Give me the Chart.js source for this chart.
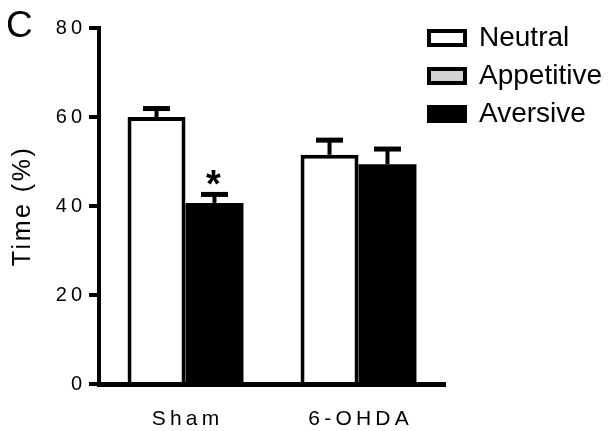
<!DOCTYPE html>
<html><head><meta charset="utf-8">
<script src="https://cdn.jsdelivr.net/npm/chart.js@4.4.1/dist/chart.umd.min.js"></script>
<style>html,body{margin:0;padding:0;background:#fff;} #wrap{width:611px;height:431px;}</style>
</head><body><div id="wrap"><canvas id="c" width="611" height="431"></canvas></div>
<script>
const categories = ['Sham', '6-OHDA'];
const neutralValues = [60.0, 51.5];
const neutralErrors = [1.9, 3.3];
const appetitiveValues = [null, null];
const aversiveValues = [40.7, 49.4];
const aversiveErrors = [1.9, 3.4];
const aversiveMarks = ['*', ''];
const yTicks = [0, 20, 40, 60, 80];
const panelLabel = 'C';
const yTitle = 'Time (%)';

const FONT = 'Liberation Sans';
const spaced = s => String(s).split('').join('\u2009');

const legendMover = {
  id: 'legendMover',
  afterLayout(chart) {
    const lg = chart.legend;
    if (lg) {
      const w = lg.width, h = lg.height;
      lg.left = 419; lg.top = 14; lg.right = lg.left + w; lg.bottom = lg.top + h;
    }
    const ys = chart.scales.y;
    if (ys && !ys._spacedTitle) {
      const orig = ys.drawTitle;
      ys.drawTitle = function () {
        this.ctx.save();
        this.ctx.letterSpacing = '2.5px';
        orig.apply(this, arguments);
        this.ctx.restore();
      };
      ys._spacedTitle = true;
    }
  }
};

const errorBars = {
  id: 'errorBars',
  afterDatasetsDraw(chart) {
    const ctx = chart.ctx, ys = chart.scales.y;
    chart.data.datasets.forEach((ds, di) => {
      if (!ds.errors) return;
      const meta = chart.getDatasetMeta(di);
      meta.data.forEach((bar, i) => {
        const v = ds.data[i], e = ds.errors[i];
        if (v == null || e == null) return;
        const x = bar.x, y0 = ys.getPixelForValue(v), y1 = ys.getPixelForValue(v + e);
        ctx.save();
        ctx.strokeStyle = '#000';
        ctx.lineWidth = 4;
        ctx.beginPath(); ctx.moveTo(x, y0); ctx.lineTo(x, y1); ctx.stroke();
        ctx.lineWidth = 5;
        ctx.beginPath(); ctx.moveTo(x - 13.5, y1); ctx.lineTo(x + 13.5, y1); ctx.stroke();
        if (ds.marks && ds.marks[i]) {
          ctx.fillStyle = '#000';
          ctx.font = 'bold 38px "' + FONT + '"';
          ctx.textAlign = 'center';
          ctx.textBaseline = 'alphabetic';
          ctx.fillText(ds.marks[i], x - 1, y1 + 3);
        }
        ctx.restore();
      });
    });
  }
};

const panelText = {
  id: 'panelText',
  afterDraw(chart) {
    const ctx = chart.ctx;
    ctx.save();
    ctx.fillStyle = '#000';
    ctx.font = '37px "' + FONT + '"';
    ctx.textAlign = 'left';
    ctx.textBaseline = 'alphabetic';
    ctx.fillText(panelLabel, 6, 37);
    ctx.restore();
  }
};

new Chart(document.getElementById('c'), {
  type: 'bar',
  data: {
    labels: categories,
    datasets: [
      {label: 'Neutral', data: neutralValues, errors: neutralErrors, backgroundColor: '#ffffff', borderColor: '#000000', borderWidth: 4, skipNull: true},
      {label: 'Appetitive', data: appetitiveValues, backgroundColor: '#d3d3d3', borderColor: '#000000', borderWidth: 4, skipNull: true},
      {label: 'Aversive', data: aversiveValues, errors: aversiveErrors, marks: aversiveMarks, backgroundColor: '#000000', borderColor: '#000000', borderWidth: 0, skipNull: true}
    ]
  },
  options: {
    responsive: false,
    animation: false,
    devicePixelRatio: 1,
    categoryPercentage: 0.67,
    barPercentage: 1.0,
    layout: {padding: {left: 8, right: 166, top: 28, bottom: 0}},
    plugins: {
      legend: {
        position: 'chartArea', align: 'start',
        labels: {
          boxWidth: 36, boxHeight: 14, padding: 10, color: '#000', font: {family: FONT, size: 28},
          generateLabels: chart => Chart.defaults.plugins.legend.labels.generateLabels(chart)
            .map(it => Object.assign(it, {lineWidth: 4, strokeStyle: '#000000'}))
        }
      },
      tooltip: {enabled: false}
    },
    scales: {
      x: {
        z: 1,
        afterFit: s => { s.height = 47; },
        grid: {display: false, drawTicks: false},
        border: {display: true, color: '#000', width: 5},
        ticks: {
          color: '#000', padding: 23, font: {family: FONT, size: 21},
          callback: function (v) { return spaced(this.getLabelForValue(v)); }
        }
      },
      y: {
        z: 1,
        min: 0, max: 80,
        afterBuildTicks: axis => { axis.ticks = yTicks.map(v => ({value: v})); },
        afterFit: s => { s.width = 91; },
        grid: {display: true, drawOnChartArea: false, drawTicks: true, tickLength: 10, lineWidth: 4, color: '#000'},
        border: {display: true, color: '#000', width: 4},
        ticks: {color: '#000', padding: 7, font: {family: FONT, size: 20}, callback: v => spaced(v)},
        title: {display: true, text: yTitle, color: '#000', font: {family: FONT, size: 25}, padding: {top: 0, bottom: 10}}
      }
    }
  },
  plugins: [legendMover, errorBars, panelText]
});
</script>
</body></html>
